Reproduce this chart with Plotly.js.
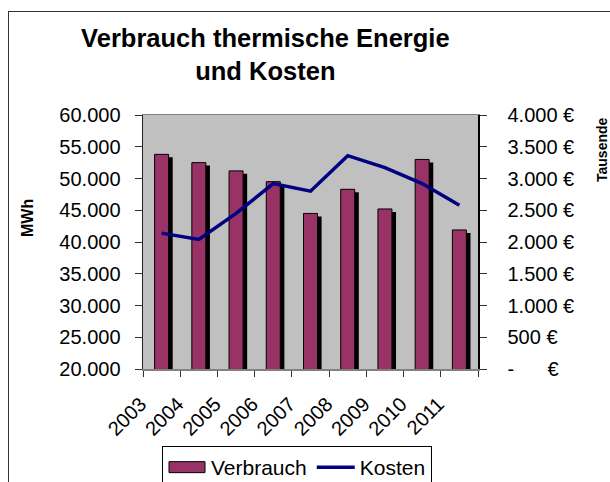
<!DOCTYPE html>
<html>
<head>
<meta charset="utf-8">
<script src="https://cdn.plot.ly/plotly-3.0.1.min.js"></script>
<style>
  html, body { margin: 0; padding: 0; background: #fff; }
  #wrap { position: relative; width: 610px; height: 482px; overflow: hidden; }
  #chart { width: 610px; height: 482px; }
  #frame { position: absolute; left: 8px; top: 11px; width: 700px; height: 600px;
           border-left: 1.5px solid #333; border-top: 1.5px solid #333; pointer-events: none; }
</style>
</head>
<body>
<div id="wrap">
  <div id="chart"></div>
  <div id="frame"></div>
</div>
<script>
// ---- data ----
const years = ['2003', '2004', '2005', '2006', '2007', '2008', '2009', '2010', '2011'];
const verbrauch = [53800, 52500, 51200, 49500, 44500, 48300, 45200, 53000, 41900]; // MWh
const kosten = [2140, 2040, 2450, 2920, 2800, 3360, 3170, 2920, 2580]; // Tausend €
const leftTickVals = [20000, 25000, 30000, 35000, 40000, 45000, 50000, 55000, 60000];
const rightTickVals = [0, 500, 1000, 1500, 2000, 2500, 3000, 3500, 4000];
const rightTickText = ['-\u00a0\u00a0\u00a0\u00a0\u00a0\u00a0€', '500 €', '1.000 €', '1.500 €', '2.000 €',
                       '2.500 €', '3.000 €', '3.500 €', '4.000 €'];

const FONT = 'Liberation Sans, Arial, sans-serif';
const shadowShift = 470; // ~3px vertical drop of the shadow

const traces = [
  { // shadow of the bars
    type: 'bar', x: years, y: verbrauch, xaxis: 'x', yaxis: 'y',
    width: 0.376, offset: -0.078,
    marker: { color: '#000000' }, showlegend: false, hoverinfo: 'skip'
  },
  {
    type: 'bar', name: 'Verbrauch', x: years, y: verbrauch, xaxis: 'x', yaxis: 'y2',
    width: 0.376, offset: -0.188,
    marker: { color: '#993366', line: { color: '#000000', width: 1 } }
  },
  {
    type: 'scatter', mode: 'lines', name: 'Kosten', x: years, y: kosten, xaxis: 'x', yaxis: 'y3',
    line: { color: '#000080', width: 3.5 }
  }
];

const layout = {
  width: 610, height: 482,
  margin: { l: 143, r: 132, t: 115, b: 113, pad: 0 },
  paper_bgcolor: '#ffffff',
  plot_bgcolor: '#C0C0C0',
  separators: ',.',
  font: { family: FONT, size: 20, color: '#000' },
  barmode: 'overlay',
  title: {
    text: 'Verbrauch thermische Energie<br>und Kosten',
    font: { family: FONT, size: 25.5, color: '#000', weight: 'bold' },
    xref: 'container', x: 0.435, xanchor: 'center',
    yref: 'container', y: 0.902, yanchor: 'top'
  },
  xaxis: {
    type: 'category', range: [-0.5, 8.5],
    showline: true, linecolor: '#808080', linewidth: 1.5, mirror: true,
    ticks: 'outside', ticklen: 6, tickcolor: '#333', tickson: 'boundaries',
    tickangle: -45, ticklabelshift: -21, ticklabelstandoff: 14,
    tickfont: { family: FONT, size: 20 },
    showgrid: false, zeroline: false
  },
  yaxis: {
    range: [20000 + shadowShift, 60000 + shadowShift],
    showticklabels: false, ticks: '', showline: false, showgrid: false, zeroline: false
  },
  yaxis2: {
    overlaying: 'y', side: 'left', anchor: 'x',
    range: [20000, 60000], tickvals: leftTickVals, tickformat: ',d',
    showline: true, linecolor: '#222', linewidth: 1.5,
    ticks: 'outside', ticklen: 7, tickcolor: '#333', ticklabelstandoff: 10,
    tickfont: { family: FONT, size: 20 },
    showgrid: false, zeroline: false
  },
  yaxis3: {
    overlaying: 'y', side: 'right', anchor: 'x',
    range: [0, 4000], tickvals: rightTickVals, ticktext: rightTickText,
    showline: true, linecolor: '#000', linewidth: 1.5,
    ticks: 'outside', ticklen: 7, tickcolor: '#333', ticklabelstandoff: 17,
    tickfont: { family: FONT, size: 20 },
    showgrid: false, zeroline: false
  },
  legend: {
    orientation: 'h',
    xref: 'container', x: 162 / 610, xanchor: 'left',
    yref: 'container', y: 1 - 446 / 482, yanchor: 'top',
    bgcolor: '#ffffff', bordercolor: '#000', borderwidth: 1,
    font: { family: FONT, size: 21, color: '#000' },
    itemwidth: 38,
    traceorder: 'normal'
  },
  annotations: [
    { text: 'MWh', textangle: -90, xref: 'paper', yref: 'paper',
      x: (27 - 143) / 335, y: (369 - 218) / 254, xanchor: 'center', yanchor: 'middle', showarrow: false,
      font: { family: FONT, size: 16, weight: 'bold', color: '#000' } },
    { text: 'Tausende', textangle: -90, xref: 'paper', yref: 'paper',
      x: (602 - 143) / 335, y: (369 - 150) / 254, xanchor: 'center', yanchor: 'middle', showarrow: false,
      font: { family: FONT, size: 14, weight: 'bold', color: '#000' } }
  ],
  showlegend: true
};

Plotly.newPlot('chart', traces, layout, { displayModeBar: false, staticPlot: true }).then(function (gd) {
  // widen the bar legend swatch to an Excel-like rectangle
  gd.querySelectorAll('.legend .legendpoints path').forEach(function (p) {
    if ((p.getAttribute('d') || '').indexOf('M6,6H-6V-6H6Z') === 0) {
      p.setAttribute('d', 'M18,5.5H-18V-5.5H18Z');
    }
  });
});
</script>
</body>
</html>
